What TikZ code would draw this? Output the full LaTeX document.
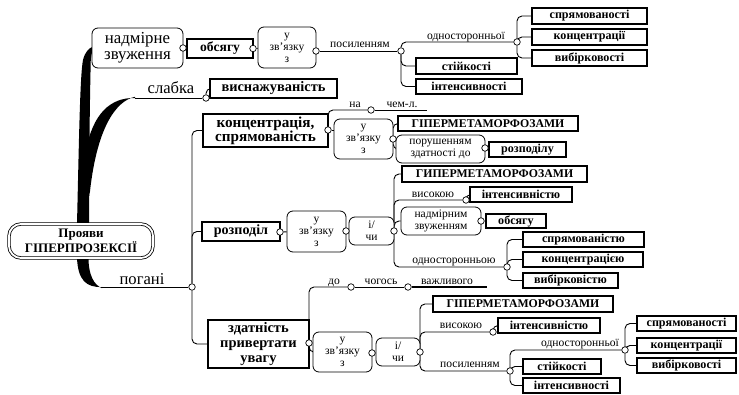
\documentclass[tikz,border=0pt]{standalone}
\usepackage{fontspec}
\setmainfont{Liberation Serif}
\usetikzlibrary{backgrounds}
\begin{document}
\begin{tikzpicture}[x=1pt,y=-1pt,
  bx/.style={draw,line width=1.6pt,fill=white,inner sep=0pt,align=center,font=\bfseries\fontsize{12.1}{13}\selectfont},
  capbx/.style={bx,font=\bfseries\fontsize{11.8}{13}\selectfont},
  bigbx/.style={bx,font=\bfseries\fontsize{15.2}{14}\selectfont},
  rbx/.style={draw,line width=0.8pt,rounded corners=6pt,fill=white,inner sep=0pt,align=center,font=\fontsize{11.5}{12}\selectfont},
  dot/.style={circle,draw,line width=0.7pt,fill=white,inner sep=0pt,minimum size=6.5pt},
  lbl/.style={inner sep=0pt,anchor=base,font=\fontsize{11.6}{12}\selectfont},
  biglbl/.style={lbl,font=\fontsize{16.6}{17}\selectfont},
  conn/.style={line width=0.9pt,rounded corners=5pt},
  wedge/.style={fill=black},
]
\useasboundingbox (0,0) rectangle (739,395);

% ---------- root ----------
\node[draw,double,double distance=1.8pt,line width=0.8pt,rounded corners=12pt,fill=white,
  minimum width=144pt,minimum height=34pt,inner sep=0pt,align=center,
  font=\bfseries\fontsize{13}{12.5}\selectfont] (root) at (81,241) {Прояви\\ГІПЕРПРОЗЕКСІЇ};

% ---------- top branch ----------
\node[rbx,minimum width=91pt,minimum height=40pt,font=\fontsize{16.8}{16}\selectfont] (nz) at (137.5,48) {надмірне\\звуження};
\node[bx,minimum width=66pt,minimum height=19pt,font=\bfseries\fontsize{13.6}{14}\selectfont] (obs) at (220,48.5) {обсягу};
\node[rbx,minimum width=58pt,minimum height=41pt] (zv1) at (287,47.5) {у\\зв'язку\\з};
\node[bx,minimum width=115pt,minimum height=16pt] (spr1) at (589.5,16) {спрямованості};
\node[bx,minimum width=115pt,minimum height=16pt] (kon1) at (589.5,37) {концентрації};
\node[bx,minimum width=115pt,minimum height=16pt] (vyb1) at (589.5,58) {вибірковості};
\node[bx,minimum width=101pt,minimum height=16pt] (sti1) at (466.5,66) {стійкості};
\node[bx,minimum width=106pt,minimum height=15pt] (int1) at (469,86.5) {інтенсивності};
\node[lbl] (lposyl1) at (360,48) {посиленням};
\node[lbl] (lodn1) at (466,39.5) {односторонньої};
\node[dot] (c1) at (183,48) {};
\node[dot] (c2) at (253,48.5) {};
\node[dot] (c3) at (316,51) {};
\node[dot] (c4) at (401,51) {};
\node[dot] (c5) at (517,42) {};

% ---------- слабка ----------
\node[biglbl] (lslab) at (171,94) {слабка};
\node[bx,minimum width=127pt,minimum height=19pt,font=\bfseries\fontsize{14.4}{14}\selectfont] (vys) at (273.5,88.5) {виснажуваність};
\node[dot] (c6) at (206,98) {};
\coordinate (s1) at (135,98);

% ---------- погані ----------
\node[biglbl] (lpog) at (142,285) {погані};
\node[dot] (c7) at (192,287) {};
\coordinate (p1) at (102,287);

% ---------- концентрація ----------
\node[bigbx,minimum width=125pt,minimum height=33pt] (kon) at (265.5,130.5) {концентрація,\\спрямованість};
\node[rbx,minimum width=59pt,minimum height=40pt] (zv2) at (363.5,139) {у\\зв'язку\\з};
\node[capbx,minimum width=180pt,minimum height=15pt] (gip1) at (488,123.5) {ГІПЕРМЕТАМОРФОЗАМИ};
\node[rbx,minimum width=89pt,minimum height=28pt] (por) at (440.5,149) {порушенням\\здатності до};
\node[bx,minimum width=77pt,minimum height=15pt] (roz1) at (527.5,149.5) {розподілу};
\node[lbl] (lna) at (355,108) {на};
\node[lbl] (lchem) at (402,108) {чем-л.};
\node[dot] (c8) at (328,130) {};
\node[dot] (c9) at (371,110) {};
\coordinate (e1) at (427,110);
\node[dot] (c10) at (393,139) {};
\node[dot] (c11) at (485,148) {};

% ---------- розподіл ----------
\node[bigbx,minimum width=78pt,minimum height=19pt,font=\bfseries\fontsize{14.1}{14}\selectfont] (roz) at (241,231.5) {розподіл};
\node[rbx,minimum width=59pt,minimum height=41pt] (zv3) at (316.5,231.5) {у\\зв'язку\\з};
\node[rbx,minimum width=45pt,minimum height=28pt] (ichi1) at (371.5,231) {і/\\чи};
\node[capbx,minimum width=185pt,minimum height=16pt] (gip2) at (494.5,174) {ГИПЕРМЕТАМОРФОЗАМИ};
\node[bx,minimum width=102pt,minimum height=15pt] (int2) at (521,194.5) {інтенсивністю};
\node[rbx,minimum width=80pt,minimum height=28pt] (nadz) at (441,221) {надмірним\\звуженням};
\node[bx,minimum width=60pt,minimum height=14pt] (obs2) at (516,221) {обсягу};
\node[bx,minimum width=121pt,minimum height=15pt] (spr2) at (583.5,239.5) {спрямованістю};
\node[bx,minimum width=120pt,minimum height=15pt] (kon2) at (583,259.5) {концентрацією};
\node[bx,minimum width=95pt,minimum height=15pt] (vyb2) at (570.5,280.5) {вибірковістю};
\node[lbl] (lvys1) at (433,198) {високою};
\node[lbl] (lodn2) at (454,263.5) {односторонньою};
\node[dot] (c12) at (280,232) {};
\node[dot] (c13) at (346,231) {};
\node[dot] (c14) at (394,231) {};
\node[dot] (c15) at (466,200) {};
\node[dot] (c16) at (481,221) {};
\node[dot] (c17) at (507,267) {};

% ---------- здатність ----------
\node[bx,minimum width=101pt,minimum height=48pt,font=\bfseries\fontsize{14.5}{15}\selectfont] (zd) at (258.5,344) {здатність\\привертати\\увагу};
\node[rbx,minimum width=59pt,minimum height=40pt] (zv4) at (342.5,352) {у\\зв'язку\\з};
\node[rbx,minimum width=44pt,minimum height=28pt] (ichi2) at (398,352) {і/\\чи};
\node[capbx,minimum width=180pt,minimum height=16pt] (gip3) at (523,304) {ГІПЕРМЕТАМОРФОЗАМИ};
\node[bx,minimum width=102pt,minimum height=15pt] (int3) at (549,325.5) {інтенсивністю};
\node[bx,minimum width=99pt,minimum height=15pt] (spr3) at (686.5,323.5) {спрямованості};
\node[bx,minimum width=99pt,minimum height=15pt] (kon3) at (686.5,345.5) {концентрації};
\node[bx,minimum width=99pt,minimum height=15pt] (vyb3) at (686.5,365.5) {вибірковості};
\node[bx,minimum width=78pt,minimum height=15pt] (sti2) at (562,366.5) {стійкості};
\node[bx,minimum width=97pt,minimum height=15pt] (int4) at (571.5,385.5) {інтенсивності};
\node[lbl] (ldo) at (334,284.5) {до};
\node[lbl] (lchog) at (381,284.5) {чогось};
\node[lbl] (lvazh) at (447,284.5) {важливого};
\node[lbl] (lvys2) at (461,329) {високою};
\node[lbl] (lposyl2) at (470,367.5) {посиленням};
\node[lbl] (lodn3) at (580,347) {односторонньої};
\node[dot] (c18) at (309,343) {};
\node[dot] (c19) at (351,287) {};
\node[dot] (c20) at (408,287) {};
\coordinate (e2) at (487,287);
\node[dot] (c21) at (372,353) {};
\node[dot] (c22) at (420,352) {};
\node[dot] (c23) at (493,332) {};
\node[dot] (c24) at (510,371) {};
\node[dot] (c25) at (625,350) {};

\begin{scope}[on background layer]
% tapered main branches
\fill[wedge] (77,224) .. controls (79,140) and (80,75) .. (83,60) .. controls (85,52) and (89,48) .. (92.5,47)
  -- (92.5,51) .. controls (91,55) and (90.5,60) .. (90.5,72) .. controls (89.5,120) and (89,180) .. (89,224) -- cycle;
\fill[wedge] (86,150) .. controls (93,114) and (110,97.4) .. (s1) -- ([yshift=1.2pt]s1) .. controls (115,101) and (96,130) .. (89.5,196) -- cycle;
\fill[wedge] (77,258) .. controls (78,280) and (86,287.6) .. (p1) -- ([yshift=-1.2pt]p1) .. controls (94,285) and (88.5,275) .. (88.5,258) -- cycle;
% top branch
\draw[conn] (c1) -- (obs);
\draw[conn] (c2) -- (zv1);
\draw[conn] (c3) -- (c4);
\draw[conn] (c4) |- (c5);
\draw[conn] (c4) |- (sti1.west);
\draw[conn] (c4) |- (int1.west);
\draw[conn] (c5) |- (spr1.west);
\draw[conn] (c5) |- (kon1.west);
\draw[conn] (c5) |- (vyb1.west);
% слабка
\draw[conn] (s1) -- (c6);
\draw[conn] (c6) |- (vys.west);
% погані
\draw[conn] (p1) -- (c7);
\draw[conn] (c7) |- (kon.west);
\draw[conn] (c7) |- (roz.west);
\draw[conn] (c7) |- (zd.west);
% концентрація
\draw[conn] (c8) |- (c9);
\draw[conn] (c9) -- (e1);
\draw[conn] (c8) -- (zv2.west |- c8);
\draw[conn] (c10) |- (gip1.west);
\draw[conn] (c10) |- (por.west);
\draw[conn] (c11) -- (roz1);
% розподіл
\draw[conn] (c12) -- (zv3);
\draw[conn] (c13) -- (ichi1);
\draw[conn] (c14) |- (gip2.west);
\draw[conn] (c14) |- (c15);
\draw[conn] (c15) |- (int2.west);
\draw[conn] (c14) |- (nadz.west);
\draw[conn] (c16) -- (obs2);
\draw[conn] (c14) |- (c17);
\draw[conn] (c17) |- (spr2.west);
\draw[conn] (c17) |- (kon2.west);
\draw[conn] (c17) |- (vyb2.west);
% здатність
\draw[conn] (c18) |- (c19);
\draw[conn] (c19) -- (c20);
\draw[conn,line width=1.3pt] (c20) -- (e2);
\draw[conn] (c18) |- (zv4.west);
\draw[conn] (c21) -- (ichi2);
\draw[conn] (c22) |- (gip3.west);
\draw[conn] (c22) |- (c23);
\draw[conn] (c23) |- (int3.west);
\draw[conn] (c22) |- (c24);
\draw[conn] (c24) |- (c25);
\draw[conn] (c24) |- (sti2.west);
\draw[conn] (c24) |- (int4.west);
\draw[conn] (c25) |- (spr3.west);
\draw[conn] (c25) |- (kon3.west);
\draw[conn] (c25) |- (vyb3.west);
\end{scope}
\end{tikzpicture}
\end{document}
